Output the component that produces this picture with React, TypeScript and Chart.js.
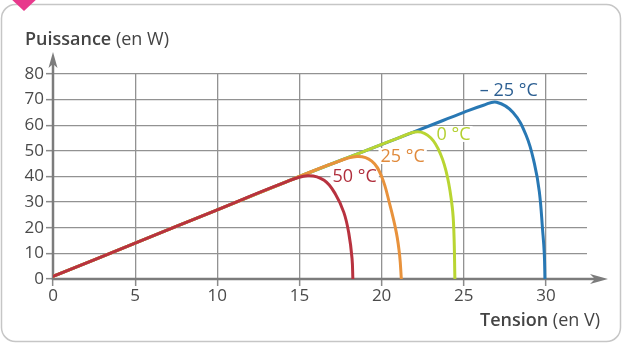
import React, { useEffect, useRef } from 'react';
import { Chart, registerables } from 'chart.js';

Chart.register(...registerables);

// ---- data (Tension en V, Puissance en W) ----
const v50 = [0, 5, 10, 14, 15.5, 16.5, 17.2, 17.7, 18.0, 18.2, 18.25];
const p50 = [1, 14, 27, 37.4, 40.3, 38.5, 33, 26, 18, 8, 0];

const v25 = [0, 5, 10, 15, 17, 18.5, 19.4, 20, 20.5, 20.9, 21.1, 21.2];
const p25 = [1, 14, 27, 40, 45, 47.8, 46, 40, 29, 18, 9, 0];

const v0 = [0, 5, 10, 15, 19, 21, 22.2, 23, 23.6, 24, 24.3, 24.4, 24.46];
const p0 = [1, 14, 27, 40, 50, 55, 57.5, 55, 48.5, 40, 28, 18, 0];

const vm25 = [0, 5, 10, 15, 19, 23, 25, 26.2, 27, 28, 28.8, 29.3, 29.6, 29.8, 29.9, 29.94];
const pm25 = [1, 14, 27, 40, 50, 60, 65, 67.8, 69, 65, 56, 45, 34, 19, 10, 0];

const seriesNames = ['50 °C', '25 °C', '0 °C', '– 25 °C'];
const seriesColors = ['#b8323f', '#e8923c', '#b9d532', '#2878b4'];
const labelColors = ['#b02e3c', '#e08a3c', '#b3d030', '#2c5f92'];
// label anchors in data coordinates (V, W)
const labelX = [18.36, 21.28, 24.38, 27.74];
const labelY = [40.2, 48, 56.6, 73.8];

const xMin = 0;
const xMax = 32.5;
const xStep = 5;
const yMin = 0;
const yMax = 80;
const yStep = 10;

const FONT = "'Open Sans', 'Noto Sans', sans-serif";

function toPts(xs: number[], ys: number[]) {
  return xs.map((x, i) => ({ x, y: ys[i] }));
}

const decorPlugin = {
  id: 'decor',
  beforeDraw(chart: any) {
    const ctx = chart.ctx as CanvasRenderingContext2D;
    ctx.save();
    ctx.fillStyle = '#ffffff';
    ctx.fillRect(0, 0, chart.width, chart.height);
    // rounded frame
    ctx.strokeStyle = '#c6c6c6';
    ctx.lineWidth = 1.5;
    ctx.beginPath();
    (ctx as any).roundRect(1.5, 4.5, 619, 337, 14);
    ctx.stroke();
    // pink marker
    ctx.fillStyle = '#e8398c';
    ctx.beginPath();
    ctx.moveTo(8, -4);
    ctx.lineTo(40, -4);
    ctx.lineTo(24, 11);
    ctx.closePath();
    ctx.fill();
    ctx.restore();
  },
  beforeDatasetsDraw(chart: any) {
    const ctx = chart.ctx as CanvasRenderingContext2D;
    const xs = chart.scales.x;
    const ys = chart.scales.y;
    ctx.save();
    // axes
    ctx.strokeStyle = '#7c7c7c';
    ctx.fillStyle = '#7c7c7c';
    ctx.lineWidth = 2.5;
    const x0 = xs.getPixelForValue(0);
    const y0 = ys.getPixelForValue(0);
    ctx.beginPath();
    ctx.moveTo(x0, y0 + 1);
    ctx.lineTo(x0, 60);
    ctx.stroke();
    ctx.beginPath();
    ctx.moveTo(x0 - 1, y0);
    ctx.lineTo(598, y0);
    ctx.stroke();
    // arrow heads
    ctx.beginPath();
    ctx.moveTo(x0, 52);
    ctx.lineTo(x0 + 4.5, 68);
    ctx.lineTo(x0, 64);
    ctx.lineTo(x0 - 4.5, 68);
    ctx.closePath();
    ctx.fill();
    ctx.beginPath();
    ctx.moveTo(608, y0);
    ctx.lineTo(590, y0 - 5);
    ctx.lineTo(595, y0);
    ctx.lineTo(590, y0 + 5);
    ctx.closePath();
    ctx.fill();

    // temperature labels (white background)
    ctx.font = `500 18px ${FONT}`;
    ctx.textAlign = 'center';
    ctx.textBaseline = 'middle';
    seriesNames.forEach((name, i) => {
      const px = xs.getPixelForValue(labelX[i]);
      const py = ys.getPixelForValue(labelY[i]);
      const w = ctx.measureText(name).width;
      ctx.fillStyle = '#ffffff';
      ctx.fillRect(px - w / 2 - 2, py - 8, w + 4, 16);
      ctx.fillStyle = labelColors[i];
      ctx.fillText(name, px, py + 1);
    });
    ctx.restore();
  },
  afterDraw(chart: any) {
    const ctx = chart.ctx as CanvasRenderingContext2D;
    ctx.save();
    ctx.fillStyle = '#444444';
    ctx.textBaseline = 'alphabetic';
    ctx.textAlign = 'left';
    ctx.font = `600 18px ${FONT}`;
    ctx.fillText('Puissance', 25, 45);
    let w = ctx.measureText('Puissance ').width;
    ctx.font = `18px ${FONT}`;
    ctx.fillText('(en W)', 25 + w, 45);
    ctx.font = `600 18px ${FONT}`;
    ctx.fillText('Tension', 480, 326);
    w = ctx.measureText('Tension ').width;
    ctx.font = `18px ${FONT}`;
    ctx.fillText('(en V)', 480 + w, 326);
    ctx.restore();
  },
};

export default function App() {
  const ref = useRef<HTMLCanvasElement | null>(null);
  useEffect(() => {
    if (!ref.current) return;
    const sets = [
      toPts(v50, p50),
      toPts(v25, p25),
      toPts(v0, p0),
      toPts(vm25, pm25),
    ];
    const chart = new Chart(ref.current, {
      type: 'line',
      data: {
        datasets: sets.map((d, i) => ({
          label: seriesNames[i],
          data: d,
          borderColor: seriesColors[i],
          backgroundColor: seriesColors[i],
          borderWidth: 3,
          pointRadius: 0,
          fill: false,
          tension: 0.4,
          borderCapStyle: 'round' as const,
          borderJoinStyle: 'round' as const,
        })),
      },
      options: {
        responsive: false,
        animation: false,
        devicePixelRatio: 1,
        layout: { padding: { left: 0, right: 37, top: 74, bottom: 0 } },
        plugins: { legend: { display: false }, tooltip: { enabled: false }, title: { display: false } },
        scales: {
          x: {
            type: 'linear',
            min: xMin,
            max: xMax,
            afterFit: (s: any) => { s.height = 67; },
            border: { display: false },
            grid: { color: '#929292', lineWidth: 1.3, tickLength: 7, tickColor: '#8a8a8a', tickWidth: 1.5 },
            ticks: {
              stepSize: xStep,
              includeBounds: false,
              color: '#4a4a4a',
              padding: 0,
              font: { family: FONT, size: 17 },
              maxRotation: 0,
            },
          },
          y: {
            type: 'linear',
            min: yMin,
            max: yMax,
            afterFit: (s: any) => { s.width = 53; },
            border: { display: false },
            grid: { color: '#929292', lineWidth: 1.3, tickLength: 7, tickColor: '#8a8a8a', tickWidth: 1.5 },
            ticks: {
              stepSize: yStep,
              color: '#4a4a4a',
              padding: 2,
              font: { family: FONT, size: 17 },
            },
          },
        },
      },
      plugins: [decorPlugin],
    });
    return () => chart.destroy();
  }, []);
  return (
    <div style={{ position: 'absolute', left: 0, top: 0, width: 624, height: 346 }}>
      <canvas ref={ref} width={624} height={346} style={{ width: 624, height: 346, display: 'block' }} />
    </div>
  );
}
